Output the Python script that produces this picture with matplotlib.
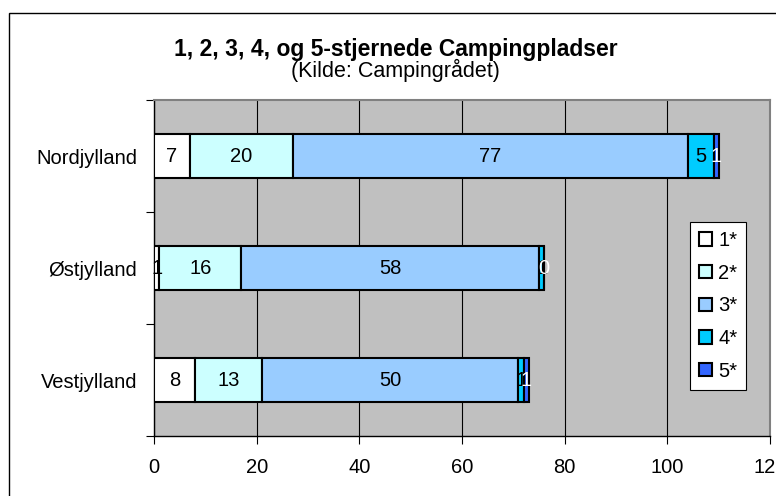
import matplotlib.pyplot as plt
from matplotlib.patches import Rectangle
import numpy as np

plt.rcParams['font.family'] = ['Liberation Sans', 'DejaVu Sans']

# data (bottom to top as drawn)
regions = ["Vestjylland", "Østjylland", "Nordjylland"]
series_names = ["1*", "2*", "3*", "4*", "5*"]
one_star = [8, 1, 7]
two_star = [13, 16, 20]
three_star = [50, 58, 77]
four_star = [1, 1, 5]
five_star = [1, 0, 1]
x_ticks = [0, 20, 40, 60, 80, 100, 120]

colors = ["#FFFFFF", "#CCFFFF", "#99CCFF", "#00CCFF", "#3366FF"]
label_colors = ["black", "black", "black", "black", "white"]

W, H = 776, 496
fig = plt.figure(figsize=(W / 100, H / 100), dpi=100)

# outer chart frame (cut off at right/bottom like the original)
fig.patches.append(Rectangle((9 / W, -0.1), 1.2, 1.1 - 13 / H, transform=fig.transFigure,
                             fill=False, edgecolor="black", linewidth=1.0, clip_on=False))

ax = fig.add_axes([154 / W, 1 - 436 / H, (770 - 154) / W, (436 - 100) / H])
ax.set_facecolor("#C0C0C0")

y = np.arange(len(regions))
left = np.zeros(len(regions))
all_series = [one_star, two_star, three_star, four_star, five_star]
for vals, name, col, lcol in zip(all_series, series_names, colors, label_colors):
    vals = np.array(vals, dtype=float)
    bars = ax.barh(y, vals, left=left, height=0.4, color=col, edgecolor="black",
                   linewidth=1.5, label=name, zorder=3)
    for b, v in zip(bars, vals):
        cx = b.get_x() + b.get_width() / 2
        ax.text(cx, b.get_y() + b.get_height() / 2, f"{v:.0f}", ha="center", va="center",
                fontsize=14.5, color=lcol, zorder=5)
    left += vals

ax.set_xlim(0, 120)
ax.set_ylim(-0.5, len(regions) - 0.5)
ax.set_xticks(x_ticks)
ax.set_xticklabels([str(t) for t in x_ticks], fontsize=14.5)
ax.set_yticks(y)
ax.set_yticklabels(regions, fontsize=14.5)
ax.set_yticks(np.arange(-0.5, len(regions), 1.0), minor=True)
ax.tick_params(axis="y", which="major", length=0, pad=12)
ax.tick_params(axis="y", which="minor", length=6, width=0.8, direction="out")
ax.tick_params(axis="x", length=6, width=0.8, direction="out", pad=10)
ax.xaxis.grid(True, color="black", linewidth=0.8, zorder=0)
ax.set_axisbelow(True)
for s in ["left", "bottom"]:
    ax.spines[s].set_color("black")
    ax.spines[s].set_linewidth(1.0)
for s in ["top", "right"]:
    ax.spines[s].set_color("#808080")
    ax.spines[s].set_linewidth(1.5)

leg = ax.legend(loc="upper left", bbox_to_anchor=(0.870, 0.637),
                fontsize=14.5, frameon=True, fancybox=False, edgecolor="black",
                framealpha=1, handlelength=0.65, handleheight=0.65, handletextpad=0.3,
                labelspacing=0.68, borderpad=0.45, borderaxespad=0)
leg.get_frame().set_linewidth(0.8)
for h in leg.legend_handles:
    h.set_linewidth(1.5)

fig.text(396 / W, 1 - 56 / H, "1, 2, 3, 4, og 5-stjernede Campingpladser",
         ha="center", va="baseline", fontsize=16.5, fontweight="bold")
fig.text(395 / W, 1 - 77 / H, "(Kilde: Campingrådet)", ha="center", va="baseline", fontsize=15.5)

fig.savefig("out.png", dpi=100)
